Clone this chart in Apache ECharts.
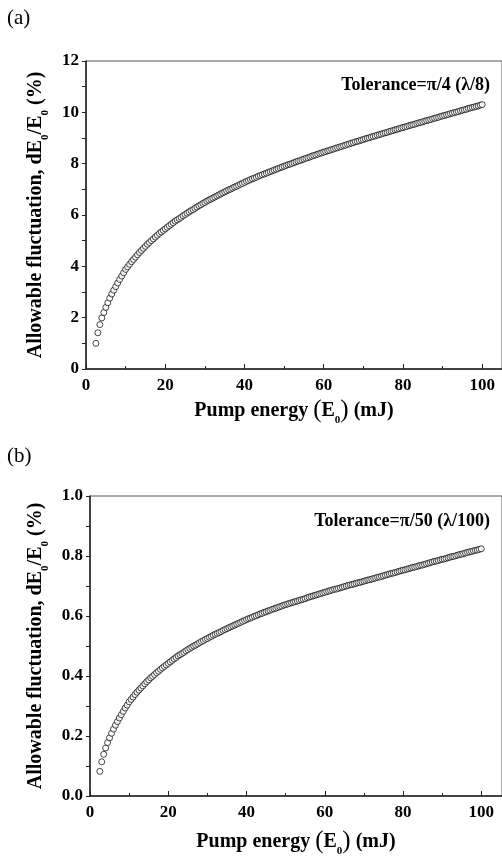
<!DOCTYPE html>
<html>
<head>
<meta charset="utf-8">
<title>Allowable fluctuation vs pump energy</title>
<script src="https://cdn.jsdelivr.net/npm/echarts@6/dist/echarts.min.js"></script>
<style>
    html, body { margin: 0; padding: 0; background: #fff; }
    #chart { width: 502px; height: 858px; }
</style>
</head>
<body>
<div id="chart"></div>
<script>
// pump energy E0 (mJ), one sample every 0.5 mJ
var energy = [
    2.5, 3, 3.5, 4, 4.5, 5, 5.5, 6, 6.5, 7, 7.5, 8, 8.5, 9, 9.5, 10,
    10.5, 11, 11.5, 12, 12.5, 13, 13.5, 14, 14.5, 15, 15.5, 16, 16.5, 17, 17.5, 18, 18.5, 19, 19.5, 20,
    20.5, 21, 21.5, 22, 22.5, 23, 23.5, 24, 24.5, 25, 25.5, 26, 26.5, 27, 27.5, 28, 28.5, 29, 29.5, 30,
    30.5, 31, 31.5, 32, 32.5, 33, 33.5, 34, 34.5, 35, 35.5, 36, 36.5, 37, 37.5, 38, 38.5, 39, 39.5, 40,
    40.5, 41, 41.5, 42, 42.5, 43, 43.5, 44, 44.5, 45, 45.5, 46, 46.5, 47, 47.5, 48, 48.5, 49, 49.5, 50,
    50.5, 51, 51.5, 52, 52.5, 53, 53.5, 54, 54.5, 55, 55.5, 56, 56.5, 57, 57.5, 58, 58.5, 59, 59.5, 60,
    60.5, 61, 61.5, 62, 62.5, 63, 63.5, 64, 64.5, 65, 65.5, 66, 66.5, 67, 67.5, 68, 68.5, 69, 69.5, 70,
    70.5, 71, 71.5, 72, 72.5, 73, 73.5, 74, 74.5, 75, 75.5, 76, 76.5, 77, 77.5, 78, 78.5, 79, 79.5, 80,
    80.5, 81, 81.5, 82, 82.5, 83, 83.5, 84, 84.5, 85, 85.5, 86, 86.5, 87, 87.5, 88, 88.5, 89, 89.5, 90,
    90.5, 91, 91.5, 92, 92.5, 93, 93.5, 94, 94.5, 95, 95.5, 96, 96.5, 97, 97.5, 98, 98.5, 99, 99.5, 100
];

// (a) tolerance pi/4 : allowable dE0/E0 (%)
var fluctA = [
    1.00, 1.41, 1.73, 1.99, 2.20, 2.40, 2.58, 2.76, 2.92, 3.07, 3.21, 3.35, 3.49, 3.62, 3.75, 3.88,
    3.98, 4.08, 4.18, 4.27, 4.36, 4.45, 4.54, 4.62, 4.70, 4.78, 4.86, 4.93, 5.00, 5.07, 5.14, 5.21, 5.28, 5.34, 5.40, 5.46,
    5.52, 5.58, 5.64, 5.70, 5.76, 5.81, 5.86, 5.91, 5.97, 6.02, 6.07, 6.12, 6.17, 6.21, 6.26, 6.31, 6.36, 6.40, 6.45, 6.49,
    6.54, 6.58, 6.62, 6.66, 6.70, 6.74, 6.78, 6.82, 6.86, 6.90, 6.94, 6.98, 7.01, 7.05, 7.09, 7.12, 7.16, 7.20, 7.23, 7.27,
    7.31, 7.34, 7.38, 7.41, 7.44, 7.47, 7.51, 7.54, 7.57, 7.60, 7.63, 7.66, 7.69, 7.72, 7.75, 7.78, 7.81, 7.84, 7.87, 7.90,
    7.93, 7.96, 7.98, 8.01, 8.04, 8.07, 8.10, 8.12, 8.15, 8.18, 8.21, 8.23, 8.26, 8.29, 8.32, 8.34, 8.37, 8.40, 8.42, 8.45,
    8.47, 8.50, 8.52, 8.55, 8.57, 8.60, 8.62, 8.65, 8.67, 8.70, 8.72, 8.75, 8.77, 8.80, 8.82, 8.85, 8.87, 8.89, 8.92, 8.94,
    8.97, 8.99, 9.01, 9.04, 9.06, 9.08, 9.11, 9.13, 9.15, 9.18, 9.20, 9.22, 9.25, 9.27, 9.29, 9.32, 9.34, 9.36, 9.39, 9.41,
    9.43, 9.45, 9.48, 9.50, 9.52, 9.54, 9.57, 9.59, 9.61, 9.63, 9.66, 9.68, 9.70, 9.72, 9.75, 9.77, 9.79, 9.81, 9.84, 9.86,
    9.88, 9.90, 9.92, 9.95, 9.97, 9.99, 10.01, 10.03, 10.06, 10.08, 10.10, 10.12, 10.15, 10.17, 10.19, 10.21, 10.23, 10.25, 10.28, 10.30
];

// (b) tolerance pi/50 : allowable dE0/E0 (%)
var fluctB = [
    0.082, 0.114, 0.139, 0.160, 0.178, 0.194, 0.209, 0.223, 0.236, 0.248, 0.260, 0.271, 0.282, 0.293, 0.303, 0.314,
    0.322, 0.330, 0.338, 0.346, 0.353, 0.360, 0.367, 0.374, 0.381, 0.387, 0.394, 0.399, 0.405, 0.411, 0.416, 0.422, 0.427, 0.432, 0.437, 0.442,
    0.447, 0.452, 0.457, 0.462, 0.467, 0.471, 0.475, 0.479, 0.484, 0.488, 0.492, 0.496, 0.500, 0.503, 0.507, 0.511, 0.515, 0.518, 0.522, 0.525,
    0.529, 0.532, 0.536, 0.539, 0.542, 0.545, 0.548, 0.552, 0.555, 0.558, 0.561, 0.564, 0.567, 0.570, 0.573, 0.576, 0.579, 0.582, 0.585, 0.588,
    0.591, 0.593, 0.596, 0.599, 0.601, 0.604, 0.607, 0.609, 0.612, 0.614, 0.617, 0.619, 0.622, 0.624, 0.626, 0.629, 0.631, 0.633, 0.636, 0.638,
    0.640, 0.642, 0.644, 0.646, 0.648, 0.650, 0.652, 0.654, 0.656, 0.658, 0.661, 0.663, 0.665, 0.667, 0.669, 0.671, 0.673, 0.675, 0.677, 0.679,
    0.681, 0.683, 0.685, 0.687, 0.689, 0.690, 0.692, 0.694, 0.696, 0.698, 0.700, 0.702, 0.704, 0.705, 0.707, 0.709, 0.711, 0.712, 0.714, 0.716,
    0.718, 0.720, 0.721, 0.723, 0.725, 0.727, 0.729, 0.730, 0.732, 0.734, 0.736, 0.738, 0.740, 0.742, 0.743, 0.745, 0.747, 0.749, 0.751, 0.753,
    0.754, 0.756, 0.758, 0.760, 0.762, 0.763, 0.765, 0.767, 0.769, 0.770, 0.772, 0.774, 0.776, 0.778, 0.780, 0.782, 0.783, 0.785, 0.787, 0.789,
    0.790, 0.792, 0.794, 0.796, 0.798, 0.799, 0.801, 0.803, 0.805, 0.806, 0.808, 0.810, 0.812, 0.814, 0.815, 0.817, 0.819, 0.820, 0.822, 0.824
];

var panelLabels = ['(a)', '(b)'];
var toleranceLabels = ['Tolerance=\u03c0/4 (\u03bb/8)', 'Tolerance=\u03c0/50 (\u03bb/100)'];

var FONT = '"Liberation Serif", "Times New Roman", serif';

function pairs(xs, ys) {
    var out = [];
    for (var i = 0; i < xs.length; i++) {
        out.push([xs[i], ys[i]]);
    }
    return out;
}

var richName = {
    a: { fontFamily: FONT, fontWeight: 'bold', fontSize: 20, color: '#000', lineHeight: 24 },
    s: { fontFamily: FONT, fontWeight: 'bold', fontSize: 11, color: '#000', lineHeight: 31, verticalAlign: 'bottom' },
    p: { fontFamily: FONT, fontWeight: 'normal', fontSize: 25, color: '#000', lineHeight: 24 }
};

function xAxisFor(gridIndex, gap) {
    return {
        gridIndex: gridIndex,
        type: 'value',
        min: 0,
        max: 104,
        interval: 20,
        name: '{a|Pump energy }{p|(}{a|E}{s|0}{p|)}{a| (mJ)}',
        nameLocation: 'middle',
        nameGap: gap,
        nameTextStyle: { rich: richName },
        axisLine: { lineStyle: { color: '#222', width: 1.5 } },
        axisTick: { inside: true, length: 5, lineStyle: { color: '#222', width: 1 } },
        minorTick: { show: true, splitNumber: 2, length: 3, lineStyle: { color: '#222', width: 1 } },
        splitLine: { show: false },
        axisLabel: {
            margin: 8,
            color: '#000',
            fontFamily: FONT,
            fontWeight: 'bold',
            fontSize: 17
        }
    };
}

function yAxisFor(gridIndex, max, interval, digits) {
    return {
        gridIndex: gridIndex,
        type: 'value',
        min: 0,
        max: max,
        interval: interval,
        name: '{a|Allowable fluctuation, dE}{s|0}{a|/E}{s|0}{a| (%)}',
        nameLocation: 'middle',
        nameRotate: 90,
        nameGap: 27,
        nameTextStyle: { rich: richName },
        axisLine: { lineStyle: { color: '#222', width: 1.5 } },
        axisTick: { inside: false, length: 4, lineStyle: { color: '#222', width: 1 } },
        minorTick: { show: true, splitNumber: 2, length: 4, lineStyle: { color: '#222', width: 1 } },
        splitLine: { show: false },
        axisLabel: {
            margin: 7,
            color: '#000',
            fontFamily: FONT,
            fontWeight: 'bold',
            fontSize: 17,
            formatter: function (v) { return v.toFixed(digits); }
        }
    };
}

function scatterFor(idx, data) {
    return {
        type: 'scatter',
        xAxisIndex: idx,
        yAxisIndex: idx,
        data: data,
        symbol: 'circle',
        symbolSize: 6,
        itemStyle: { color: '#fff', borderColor: '#000', borderWidth: 0.9 },
        emphasis: { disabled: true },
        silent: true
    };
}

var option = {
    animation: false,
    backgroundColor: '#fff',
    grid: [
        { left: 86, top: 61, width: 420, height: 308, show: true, borderColor: '#555', borderWidth: 1, containLabel: false },
        { left: 90, top: 496, width: 416, height: 307, show: true, borderColor: '#555', borderWidth: 1, containLabel: false }
    ],
    xAxis: [
        Object.assign(xAxisFor(0, 26), { max: 105 }),
        Object.assign(xAxisFor(1, 30), { max: 105.3 })
    ],
    yAxis: [yAxisFor(0, 12, 2, 0), yAxisFor(1, 1.0, 0.2, 1)],
    series: [
        scatterFor(0, pairs(energy, fluctA)),
        scatterFor(1, pairs(energy, fluctB))
    ],
    graphic: [
        { type: 'text', left: 7, top: 8, style: { text: panelLabels[0], font: '21px ' + FONT, fill: '#000' } },
        { type: 'text', left: 7, top: 446, style: { text: panelLabels[1], font: '21px ' + FONT, fill: '#000' } },
        { type: 'text', right: 12, top: 76, style: { text: toleranceLabels[0], font: 'bold 18px ' + FONT, fill: '#000' } },
        { type: 'text', right: 12, top: 512, style: { text: toleranceLabels[1], font: 'bold 18px ' + FONT, fill: '#000' } }
    ]
};

var chart = echarts.init(document.getElementById('chart'));
chart.setOption(option);
</script>
</body>
</html>
